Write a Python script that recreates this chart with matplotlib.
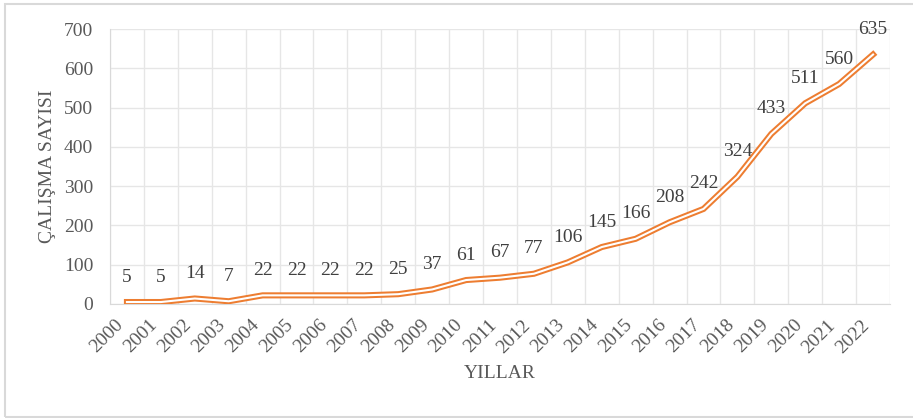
import matplotlib.pyplot as plt
from matplotlib.patches import Rectangle

# data
years = ['2000', '2001', '2002', '2003', '2004', '2005', '2006', '2007', '2008',
         '2009', '2010', '2011', '2012', '2013', '2014', '2015', '2016', '2017',
         '2018', '2019', '2020', '2021', '2022']
counts = [5, 5, 14, 7, 22, 22, 22, 22, 25, 37, 61, 67, 77, 106, 145, 166, 208,
          242, 324, 433, 511, 560, 635]
yticks = [0, 100, 200, 300, 400, 500, 600, 700]

plt.rcParams['font.family'] = ['Liberation Serif', 'DejaVu Serif']

W, H = 913, 418
fig = plt.figure(figsize=(W / 100, H / 100), dpi=100)
ax = fig.add_axes([110 / W, (H - 304) / H, 780 / W, 275 / H])

# outer frame
fig.patches.append(Rectangle((5 / W, 1 / H), 1.0, (H - 5) / H, transform=fig.transFigure,
                             fill=False, edgecolor='#D9D9D9', linewidth=1.5))

x = list(range(len(years)))
orange = '#ED7D31'
# double line look: wide orange with thin white core
ax.plot(x, counts, color=orange, linewidth=4.4, solid_joinstyle='miter', zorder=3)
ax.plot(x, counts, color='white', linewidth=1.5, solid_joinstyle='miter', zorder=4)

for xi, v in zip(x, counts):
    ax.annotate(str(v), (xi, v), xytext=(0, 25), textcoords='offset pixels',
                ha='center', va='center', fontsize=14, color='#404040', zorder=5)

ax.set_xlim(-0.5, len(years) - 0.5)
ax.set_ylim(0, 700)
ax.set_yticks(yticks)
ax.set_xticks(x)
ax.set_xticklabels(years, rotation=45, ha='right', va='top')
ax.set_xticks([i - 0.5 for i in range(len(years) + 1)], minor=True)

ax.grid(axis='y', color='#E6E6E6', linewidth=1)
ax.grid(axis='x', which='minor', color='#E6E6E6', linewidth=1)
ax.set_axisbelow(True)
for s in ['top', 'right']:
    ax.spines[s].set_visible(False)
ax.spines['left'].set_color('#D9D9D9')
ax.spines['bottom'].set_color('#D9D9D9')
ax.tick_params(axis='both', which='both', length=0, labelsize=14, colors='#595959')
ax.tick_params(axis='y', pad=12)
ax.tick_params(axis='x', pad=9)

ax.set_xlabel('YILLAR', fontsize=14, color='#595959', labelpad=6)
ax.set_ylabel('ÇALIŞMA SAYISI', fontsize=14, color='#595959', labelpad=6)

fig.savefig('out.png', dpi=100)
